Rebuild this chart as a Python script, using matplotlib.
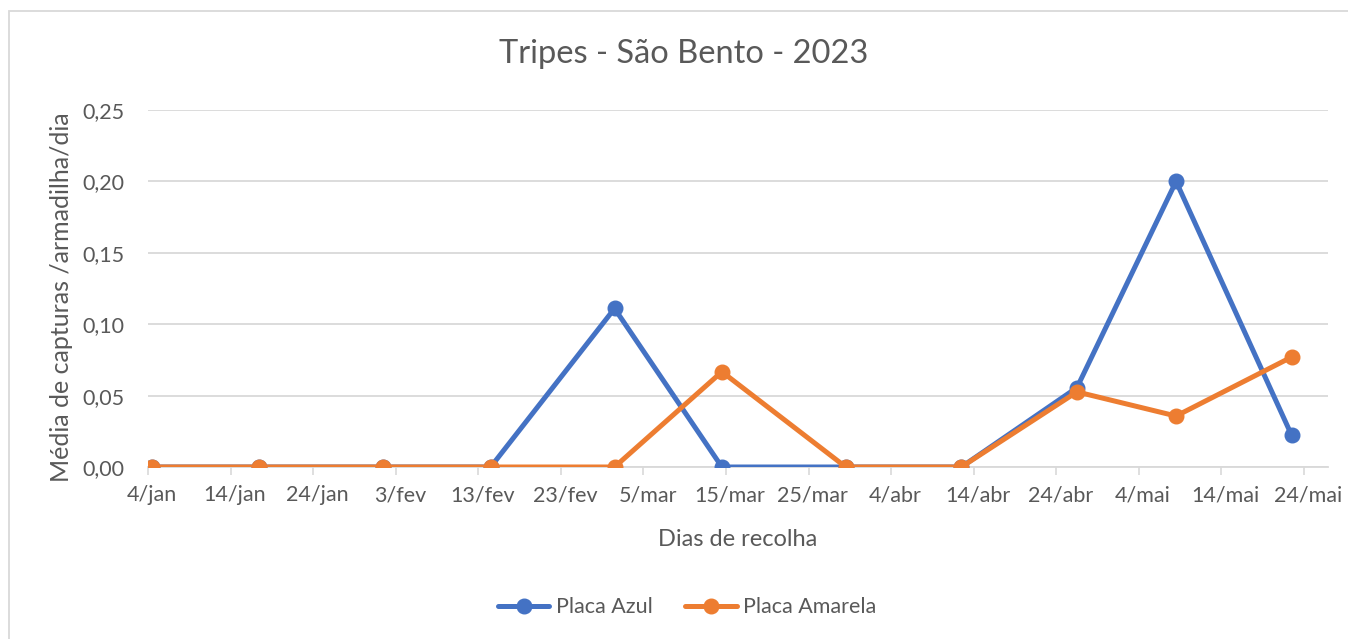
import datetime as dt
import matplotlib
matplotlib.use('Agg')
import matplotlib.pyplot as plt
import matplotlib.dates as mdates
from matplotlib.patches import Rectangle
from matplotlib.ticker import FuncFormatter, FixedLocator

plt.rcParams['font.family'] = ['Lato', 'DejaVu Sans']

# -------------------------------------------------
# Data
# -------------------------------------------------
datas = [dt.date(2023, 1, 4), dt.date(2023, 1, 17), dt.date(2023, 2, 1),
         dt.date(2023, 2, 14), dt.date(2023, 3, 1), dt.date(2023, 3, 14),
         dt.date(2023, 3, 29), dt.date(2023, 4, 12), dt.date(2023, 4, 26),
         dt.date(2023, 5, 8), dt.date(2023, 5, 22)]
placa_azul    = [0, 0, 0, 0, 0.111, 0, 0, 0, 0.0556, 0.200, 0.0222]
placa_amarela = [0, 0, 0, 0, 0, 0.0667, 0, 0, 0.0526, 0.0357, 0.0770]

meses = ['jan', 'fev', 'mar', 'abr', 'mai', 'jun',
         'jul', 'ago', 'set', 'out', 'nov', 'dez']
tick_datas = [dt.date(2023, 1, 4) + dt.timedelta(days=10 * k) for k in range(15)]

AZUL    = '#4472C4'
LARANJA = '#ED7D31'
CINZA   = '#595959'
GRELHA  = '#D9D9D9'

# -------------------------------------------------
# Figure
# -------------------------------------------------
fig = plt.figure(figsize=(13.48, 6.39), dpi=100)
ax = fig.add_axes([148 / 1348, 172 / 639, 1180 / 1348, 357 / 639])

# chart area border (only top/left visible in the crop)
fig.patches.append(Rectangle((9 / 1348, -0.1), 1.2, 1.1 - 11 / 639,
                             transform=fig.transFigure, fill=False,
                             edgecolor=GRELHA, linewidth=1.3))

x_num = mdates.date2num(datas)
ax.plot(x_num, placa_azul, color=AZUL, lw=3.6, marker='o', ms=10.5,
        label='Placa Azul', solid_capstyle='round', zorder=3)
ax.plot(x_num, placa_amarela, color=LARANJA, lw=3.6, marker='o', ms=10.5,
        label='Placa Amarela', solid_capstyle='round', zorder=4)

# axes
x0 = mdates.date2num(dt.date(2023, 1, 4)) - 0.5
ax.set_xlim(x0, x0 + 142.9)
ax.set_ylim(0, 0.25)

tick_num = mdates.date2num(tick_datas)
ax.xaxis.set_major_locator(FixedLocator(tick_num))
ax.xaxis.set_minor_locator(FixedLocator(tick_num - 0.5))
ax.xaxis.set_major_formatter(FuncFormatter(
    lambda v, p: '{}/{}'.format(mdates.num2date(v).day,
                                meses[mdates.num2date(v).month - 1])))
ax.tick_params(axis='x', which='major', length=0, pad=13,
               labelsize=15.5, labelcolor=CINZA)
ax.tick_params(axis='x', which='minor', length=6, width=1.2, color=GRELHA)

ax.set_yticks([0, 0.05, 0.10, 0.15, 0.20, 0.25])
ax.yaxis.set_major_formatter(FuncFormatter(lambda v, p: f'{v:.2f}'.replace('.', ',')))
ax.tick_params(axis='y', length=0, pad=17, labelsize=15.5, labelcolor=CINZA)

ax.grid(axis='y', color=GRELHA, lw=1.3)
ax.set_axisbelow(True)
for s in ['top', 'right', 'left']:
    ax.spines[s].set_visible(False)
ax.spines['bottom'].set_color(GRELHA)
ax.spines['bottom'].set_linewidth(1.3)
ax.spines['bottom'].set_zorder(0.5)

ax.set_xlabel('Dias de recolha', fontsize=17, color=CINZA, va='center')
ax.xaxis.set_label_coords(0.5, -0.2017)
ax.set_ylabel('Média de capturas /armadilha/dia', fontsize=18, color=CINZA, va='center')
ax.yaxis.set_label_coords(-0.0729, 0.475)

fig.text(683.5 / 1348, 1 - 63 / 639, 'Tripes - São Bento - 2023',
         ha='center', va='baseline', fontsize=23.5, color=CINZA)

fig.legend(loc='center', bbox_to_anchor=(687 / 1348, 0.050), ncol=2,
           frameon=False, fontsize=15.5, handlelength=2.4, handletextpad=0.3,
           columnspacing=1.5, labelcolor=CINZA)

fig.savefig('out.png', dpi=100)
